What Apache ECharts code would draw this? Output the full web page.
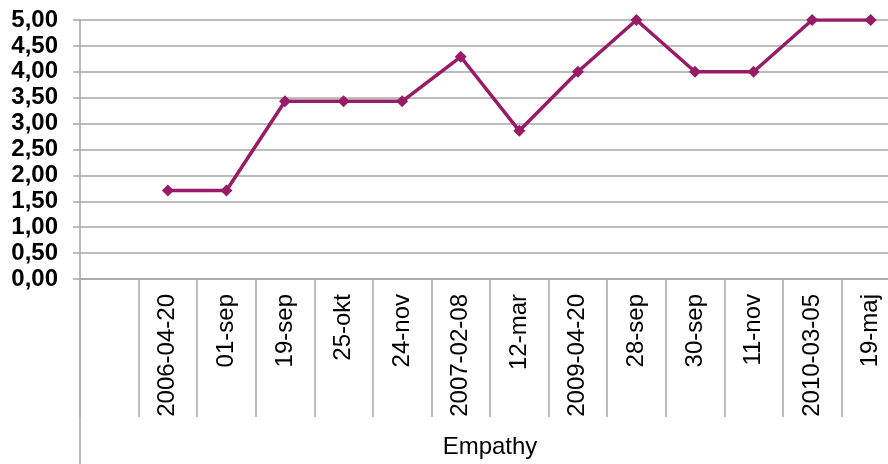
<!DOCTYPE html>
<html>
<head>
<meta charset="utf-8">
<script src="https://cdn.jsdelivr.net/npm/echarts@6/dist/echarts.min.js"></script>
<style>
  html, body { margin: 0; padding: 0; background: #fff; overflow: hidden; }
  /* chart is a bit wider than the window: the plot runs past the right edge, like the original */
  #chart { width: 900px; height: 464px; }
</style>
</head>
<body>
<div id="chart"></div>
<script>
// first slot is the empty category in front of the dates
const categories = ['', '2006-04-20', '01-sep', '19-sep', '25-okt', '24-nov', '2007-02-08',
  '12-mar', '2009-04-20', '28-sep', '30-sep', '11-nov', '2010-03-05', '19-maj'];
const empathy = [null, 1.71, 1.71, 3.43, 3.43, 3.43, 4.29, 2.86, 4.00, 5.00, 4.00, 4.00, 5.00, 5.00];
const yTicks = { min: 0, max: 5, interval: 0.5 };
const axisName = 'Empathy';

const gray = '#a6a6a6';
const lineColor = '#991a65';

var myChart = echarts.init(document.getElementById('chart'));

const options = {
  animation: false,
  textStyle: { fontFamily: 'Liberation Sans, Arial, sans-serif' },
  grid: { left: 80, right: 0, top: 20, bottom: 184 },
  xAxis: {
    type: 'category',
    data: categories,
    boundaryGap: true,
    name: axisName,
    nameLocation: 'middle',
    nameGap: 156,
    nameTextStyle: { color: '#000', fontSize: 24, fontFamily: 'Liberation Sans, Arial, sans-serif' },
    axisLine: { show: true, lineStyle: { color: gray, width: 1.5 } },
    axisTick: { show: true, interval: 0, length: 138, lineStyle: { color: gray, width: 1.5 } },
    axisLabel: {
      interval: 0,
      rotate: 90,
      margin: 15,
      color: '#000',
      fontSize: 24
    },
    splitLine: { show: false }
  },
  yAxis: {
    type: 'value',
    min: yTicks.min,
    max: yTicks.max,
    interval: yTicks.interval,
    axisLine: { show: true, lineStyle: { color: gray, width: 1.5 } },
    axisTick: { show: true, length: 7, lineStyle: { color: gray, width: 1.5 } },
    axisLabel: {
      margin: 22,
      color: '#000',
      fontSize: 24,
      fontWeight: 'bold',
      formatter: v => v.toFixed(2).replace('.', ',')
    },
    splitLine: { show: true, lineStyle: { color: gray, width: 1.5 } }
  },
  graphic: [{
    // y-axis line runs on down past the category boxes
    type: 'line',
    shape: { x1: 80, y1: 280, x2: 80, y2: 464 },
    style: { stroke: gray, lineWidth: 1.5 }
  }],
  series: [{
    type: 'line',
    data: empathy,
    symbol: 'diamond',
    symbolSize: 12,
    showSymbol: true,
    lineStyle: { color: lineColor, width: 3.5 },
    itemStyle: { color: lineColor }
  }]
};

myChart.setOption(options, true);
</script>
</body>
</html>
